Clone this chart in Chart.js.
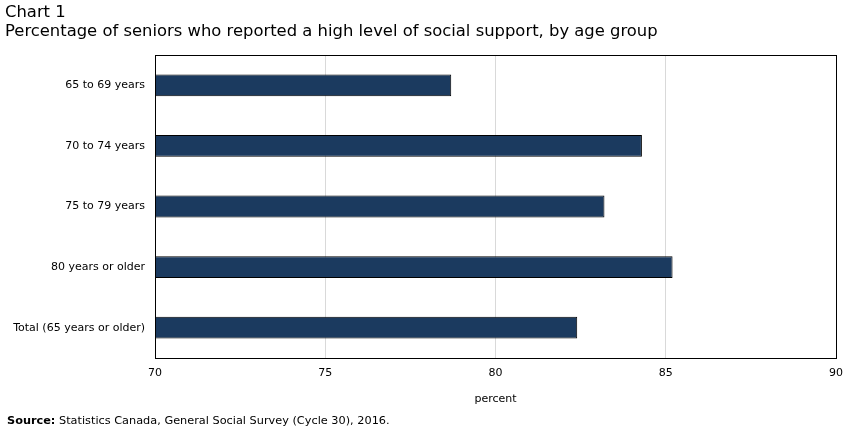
<!DOCTYPE html>
<html>
<head>
<meta charset="utf-8">
<script src="https://cdn.jsdelivr.net/npm/chart.js@4"></script>
<style>
  body { margin: 0; background: #fff; font-family: "DejaVu Sans", Verdana, sans-serif; }
  #wrap { position: relative; width: 852px; height: 436px; }
  #chart { position: absolute; left: 0; top: 0; }
  .title { position: absolute; left: 5px; font-size: 16.4px; color: #000; white-space: nowrap; }
  #t1 { top: 2px; }
  #t2 { top: 21px; }
  #source { position: absolute; left: 7px; top: 414px; font-size: 11.3px; color: #000; white-space: nowrap; }
</style>
</head>
<body>
<div id="wrap">
  <canvas id="chart" width="852" height="436"></canvas>
  <div class="title" id="t1">Chart 1</div>
  <div class="title" id="t2">Percentage of seniors who reported a high level of social support, by age group</div>
  <div id="source"><b>Source:</b> Statistics Canada, General Social Survey (Cycle 30), 2016.</div>
</div>
<script>
// data
const categories = ['65 to 69 years', '70 to 74 years', '75 to 79 years', '80 years or older', 'Total (65 years or older)'];
const values = [78.7, 84.3, 83.2, 85.2, 82.4];
const xTicks = [70, 75, 80, 85, 90];

// black frame round the plot area
const frame = {
    id: 'frame',
    afterDraw(chart) {
        const { ctx, chartArea: a } = chart;
        ctx.save();
        ctx.strokeStyle = '#000';
        ctx.lineWidth = 1;
        ctx.strokeRect(Math.round(a.left) + 0.5, Math.round(a.top) + 0.5,
            Math.round(a.right - a.left), Math.round(a.bottom - a.top));
        ctx.restore();
    }
};

new Chart(document.getElementById('chart'), {
    type: 'bar',
    data: {
        labels: categories,
        datasets: [{
            data: values,
            backgroundColor: '#1b3a5f',
            borderColor: '#000',
            borderWidth: 1,
            borderSkipped: false,
            categoryPercentage: 1,
            barPercentage: 0.36
        }]
    },
    options: {
        indexAxis: 'y',
        responsive: false,
        animation: false,
        layout: { padding: { top: 55, right: 16, bottom: 30, left: 0 } },
        plugins: { legend: { display: false }, tooltip: { enabled: false } },
        scales: {
            x: {
                min: 70, max: 90,
                afterBuildTicks: s => { s.ticks = xTicks.map(v => ({ value: v })); },
                afterFit: s => { s.height = 48; },
                grid: { color: '#d9d9d9', drawTicks: false },
                border: { display: false },
                ticks: { padding: 9, color: '#000', font: { family: 'DejaVu Sans', size: 11 } },
                title: { display: true, text: 'percent', color: '#000', padding: 0,
                         font: { family: 'DejaVu Sans', size: 11 } }
            },
            y: {
                afterFit: s => { s.width = 155; },
                grid: { display: false, drawTicks: false },
                border: { display: false },
                ticks: { padding: 10, color: '#000', font: { family: 'DejaVu Sans', size: 11 } }
            }
        }
    },
    plugins: [frame]
});
</script>
</body>
</html>
